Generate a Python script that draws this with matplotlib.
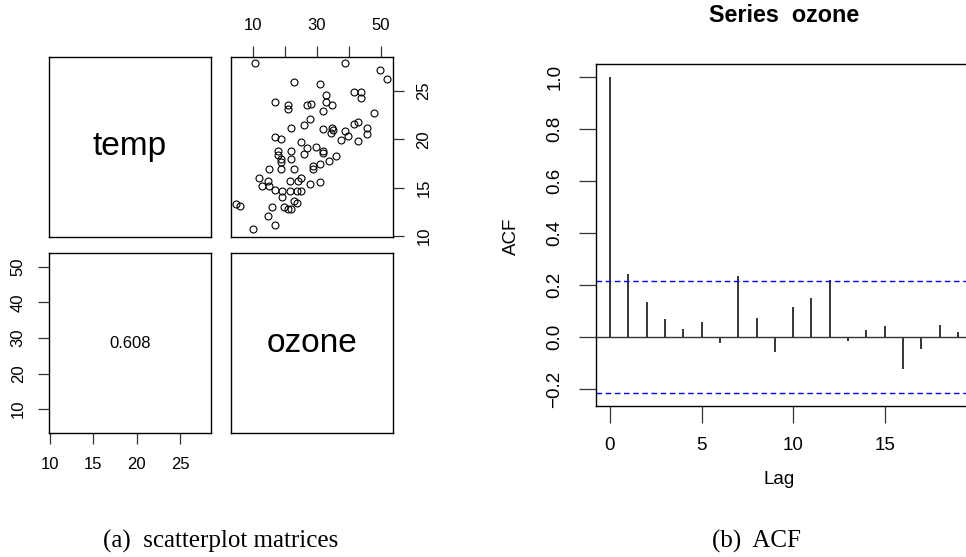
import matplotlib
matplotlib.use("Agg")
import matplotlib.pyplot as plt
import numpy as np

# ---------------- data ----------------
ozone = [10.8, 38.8, 49.8, 51.9, 22.9, 30.9, 41.7, 43.8, 43.8, 33.0,
         16.8, 21.0, 21.0, 26.8, 28.2, 33.0, 34.8, 31.8, 47.9, 28.0,
         26.0, 22.0, 31.8, 34.6, 35.1, 34.4, 38.8, 41.7, 43.0, 45.8,
         45.8, 39.8, 37.7, 42.8, 16.8, 18.9, 25.0, 26.8, 29.9, 32.0,
         32.0, 26.0, 22.0, 17.9, 17.9, 18.9, 22.0, 18.9, 18.9, 15.0,
         22.9, 28.8, 28.8, 30.9, 33.9, 36.0, 11.9, 12.8, 14.9, 15.2,
         17.0, 19.1, 19.1, 21.7, 24.1, 25.0, 28.0, 30.9, 21.7, 23.9,
         25.0, 4.8, 6.1, 16.1, 19.7, 21.0, 22.0, 22.9, 23.8, 14.9,
         17.0, 10.0]
temp = [27.9, 27.9, 27.2, 26.2, 25.9, 25.7, 24.9, 24.9, 24.3, 24.6,
        23.9, 23.6, 23.1, 23.6, 23.7, 23.9, 23.5, 22.9, 22.7, 22.1,
        21.5, 21.2, 21.1, 21.2, 21.0, 20.7, 20.9, 21.6, 21.8, 21.2,
        20.6, 20.3, 19.9, 19.8, 20.2, 20.0, 19.7, 19.1, 19.2, 18.8,
        18.6, 18.5, 18.8, 18.8, 18.4, 18.0, 18.0, 17.6, 16.9, 16.9,
        16.9, 17.2, 16.9, 17.4, 17.8, 18.3, 16.0, 15.2, 15.7, 15.2,
        14.8, 14.6, 14.0, 15.7, 15.7, 16.0, 15.4, 15.6, 14.7, 14.7,
        14.6, 13.3, 13.1, 13.0, 13.0, 12.8, 12.8, 13.6, 13.4, 12.1,
        11.1, 10.7]
corr_label = "0.608"
var_names = ["temp", "ozone"]

lags = list(range(20))
acf_vals = [1.0, 0.242, 0.133, 0.069, 0.032, 0.059, -0.023, 0.233, 0.074, -0.058,
            0.115, 0.151, 0.218, -0.015, 0.028, 0.042, -0.124, -0.047, 0.046, 0.019]
conf_limit = 0.214

temp_ticks = [10, 15, 20, 25]
ozone_ticks = [10, 20, 30, 40, 50]
ozone_top_labels = ["10", "", "30", "", "50"]
acf_yticks = [-0.2, 0.0, 0.2, 0.4, 0.6, 0.8, 1.0]
acf_xticks = [0, 5, 10, 15]

# ---------------- layout ----------------
W, H = 966, 557
DPI = 100
SANS = ["Liberation Sans", "DejaVu Sans"]
SERIF = ["Liberation Serif", "DejaVu Serif"]
plt.rcParams['font.family'] = SANS

fig = plt.figure(figsize=(W / DPI, H / DPI), dpi=DPI)
fig.patch.set_facecolor("white")


def rect(x0, y0, x1, y1):
    return [x0 / W, 1 - y1 / H, (x1 - x0) / W, (y1 - y0) / H]


temp_lim = (9.92, 28.55)
ozone_lim = (3.2, 53.8)


def base(ax):
    ax.set_xticks([])
    ax.set_yticks([])
    for s in ax.spines.values():
        s.set_linewidth(1.0)
        s.set_color("black")


SP_TICK = dict(length=8, width=0.9, labelsize=12, pad=9, color="#333333")

# top-left: temp label
ax_tl = fig.add_axes(rect(49, 56.7, 211, 236.7))
base(ax_tl)
ax_tl.text(0.5, 0.5, var_names[0], transform=ax_tl.transAxes, ha="center",
           va="center", fontsize=24)

# top-right: scatter (x = ozone, y = temp)
ax_tr = fig.add_axes(rect(231, 56.7, 393, 236.7))
base(ax_tr)
ax_tr.plot(ozone, temp, linestyle="none", marker="o", markersize=5.0,
           markerfacecolor="none", markeredgecolor="black", markeredgewidth=0.8)
ax_tr.set_xlim(*ozone_lim)
ax_tr.set_ylim(*temp_lim)
ax_tr.xaxis.tick_top()
ax_tr.set_xticks(ozone_ticks)
ax_tr.set_xticklabels(ozone_top_labels)
ax_tr.yaxis.tick_right()
ax_tr.set_yticks(temp_ticks)
ax_tr.set_yticklabels([str(t) for t in temp_ticks], rotation=90, va="center")
ax_tr.tick_params(axis="both", **SP_TICK)

# bottom-left: correlation
ax_bl = fig.add_axes(rect(49.3, 253.3, 210.7, 433.3))
base(ax_bl)
ax_bl.set_xlim(*temp_lim)
ax_bl.set_ylim(*ozone_lim)
ax_bl.set_xticks(temp_ticks)
ax_bl.set_yticks(ozone_ticks)
ax_bl.set_yticklabels([str(t) for t in ozone_ticks], rotation=90, va="center")
ax_bl.tick_params(axis="both", **SP_TICK)
ax_bl.text(0.5, 0.5, corr_label, transform=ax_bl.transAxes, ha="center",
           va="center", fontsize=12)

# bottom-right: ozone label
ax_br = fig.add_axes(rect(231, 253.3, 392.7, 433.3))
base(ax_br)
ax_br.text(0.5, 0.5, var_names[1], transform=ax_br.transAxes, ha="center",
           va="center", fontsize=24)

# ACF panel (right edge extends past the figure)
ax_acf = fig.add_axes(rect(596, 64, 972, 406))
for s in ax_acf.spines.values():
    s.set_linewidth(1.0)
    s.set_color("black")
ax_acf.vlines(lags, 0, acf_vals, colors="black", linewidth=1.1)
ax_acf.axhline(0, color="#333333", linewidth=1.0)
for c in (conf_limit, -conf_limit):
    ax_acf.axhline(c, color="blue", linewidth=1.0, linestyle=(0, (4, 2.6)))
ax_acf.set_xlim(-0.76, 19.76)
ax_acf.set_ylim(-0.265, 1.049)
ax_acf.set_xticks(acf_xticks)
ax_acf.set_yticks(acf_yticks)
ax_acf.set_yticklabels([f"{v:.1f}".replace("-", "\u2212") for v in acf_yticks],
                       rotation=90, va="center")
ax_acf.tick_params(axis="both", length=12.5, width=0.9, labelsize=13.5,
                   color="#333333")
ax_acf.tick_params(axis="y", pad=11)
ax_acf.tick_params(axis="x", pad=10)

fig.text(784 / W, 1 - 16 / H, "Series  ozone", ha="center", va="center",
         fontsize=16.8, fontweight="bold")
fig.text(779 / W, 1 - 479 / H, "Lag", ha="center", va="center", fontsize=13.5)
fig.text(511 / W, 1 - 236 / H, "ACF", ha="center", va="center", fontsize=13.5,
         rotation=90)

# captions
fig.text(221 / W, 1 - 541 / H, "(a)  scatterplot matrices", ha="center",
         va="center", fontsize=18, family=SERIF)
fig.text(757 / W, 1 - 541 / H, "(b)  ACF", ha="center", va="center",
         fontsize=18, family=SERIF)

fig.savefig("out.png", dpi=DPI, facecolor="white")
